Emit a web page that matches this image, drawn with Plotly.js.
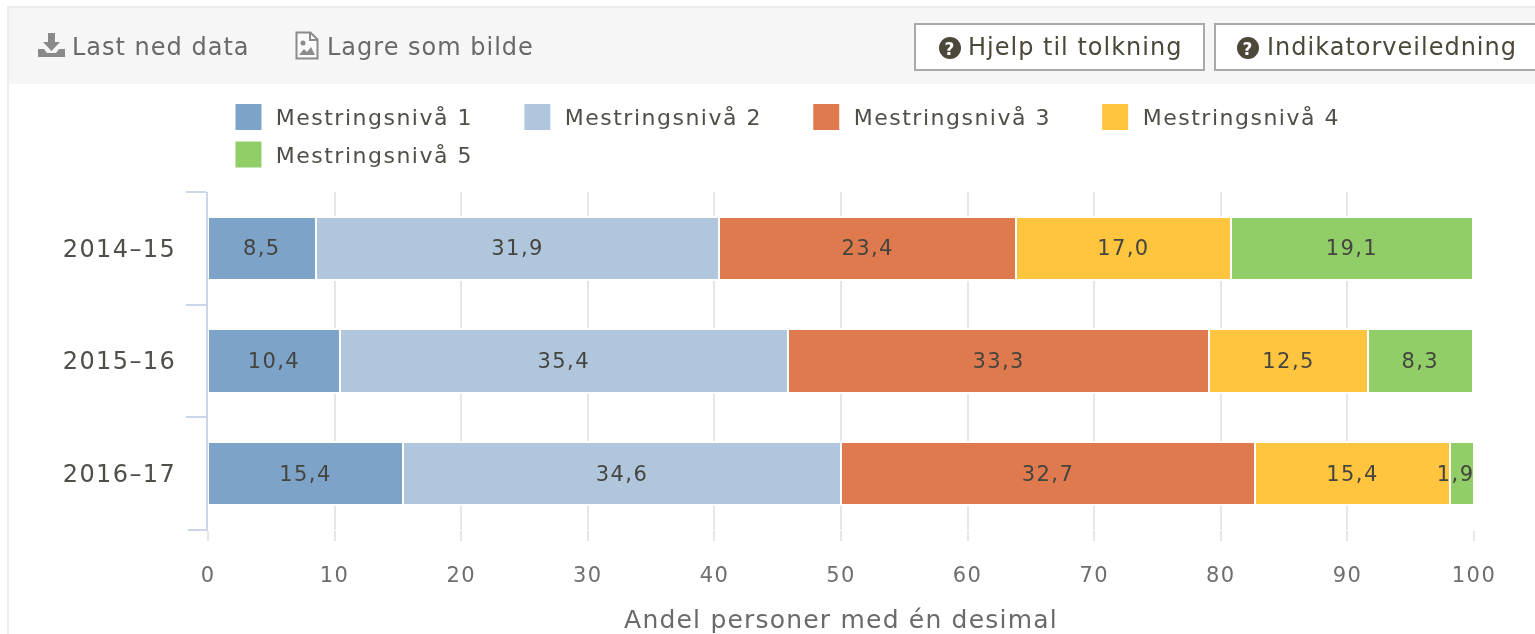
<!DOCTYPE html>
<html lang="no">
<head>
<meta charset="utf-8">
<title>Mestringsnivå</title>
<script src="https://cdn.plot.ly/plotly-3.0.1.min.js"></script>
<style>
  html, body { margin: 0; padding: 0; background: #fff; overflow: hidden; width: 1535px; height: 634px; }
  body { font-family: "DejaVu Sans", sans-serif; position: relative; filter: blur(0.5px); }
  #chart { position: absolute; left: 0; top: 0; width: 1535px; height: 634px; }
  #chart .ytick text { letter-spacing: 1.4px; }
  #chart .xtick text { letter-spacing: 1.4px; }
  #chart .xtitle { letter-spacing: 1.2px; }
  #chart .annotation-text { letter-spacing: 1.5px; }
  #chart .bartext, #chart .bartext text { letter-spacing: 1.4px; }
  #frame-top { position: absolute; left: 8px; top: 6px; width: 1527px; height: 2px; background: #ececec; }
  #frame-left { position: absolute; left: 7px; top: 6px; width: 2px; height: 628px; background: #ececec; }
  #toolbar { position: absolute; left: 9px; top: 8px; width: 1526px; height: 76px; background: #f6f6f6; }
  .item { position: absolute; top: 24px; height: 30px; line-height: 30px; font-size: 24px; letter-spacing: 1px; color: #696969; white-space: nowrap; }
  .item svg { position: absolute; }
  .btn { position: absolute; top: 15px; height: 44px; background: #fff; border: 2px solid #a9a9a9; color: #4b4739; font-size: 24px; letter-spacing: 1px; line-height: 44px; white-space: nowrap; box-sizing: content-box; }
  .btn span { position: absolute; top: 0; }
  .btn svg { position: absolute; top: 11px; }
</style>
</head>
<body>
<div id="chart"></div>
<div id="frame-top"></div>
<div id="frame-left"></div>
<div id="toolbar">
  <div class="item" style="left:29px;width:215px">
    <svg style="left:0;top:0" width="27" height="26" viewBox="0 0 27 26"><path d="M10 1h7v9h5l-8.500 9-8.500-9h5z" fill="#8a8a8a"/><path d="M0 17h6l3 4h9l3-4h6v8H0z" fill="#8a8a8a"/></svg>
    <span style="position:absolute;left:34px">Last ned data</span>
  </div>
  <div class="item" style="left:286px;width:260px">
    <svg style="left:0;top:-1px" width="24" height="29" viewBox="0 0 24 29"><path d="M1.500 1.500h14l7 7v19h-21z" fill="#fbfbfb" stroke="#8b8b8b" stroke-width="2"/><path d="M15 2v7h7" fill="none" stroke="#8b8b8b" stroke-width="2"/><circle cx="8" cy="12" r="2.500" fill="#8b8b8b"/><path d="M4 24l5-6 3 3 4-5 4 8z" fill="#8b8b8b"/></svg>
    <span style="position:absolute;left:32px">Lagre som bilde</span>
  </div>
  <div class="btn" style="left:905px;width:287px">
    <svg style="left:22px" width="24" height="24" viewBox="0 0 24 24"><circle cx="12" cy="12" r="11" fill="#4b4739"/><text x="12" y="18.500" text-anchor="middle" font-family="DejaVu Sans" font-weight="bold" font-size="17" fill="#fff">?</text></svg>
    <span style="left:52px">Hjelp til tolkning</span>
  </div>
  <div class="btn" style="left:1205px;width:330px;border-right:none">
    <svg style="left:20px" width="24" height="24" viewBox="0 0 24 24"><circle cx="12" cy="12" r="11" fill="#4b4739"/><text x="12" y="18.500" text-anchor="middle" font-family="DejaVu Sans" font-weight="bold" font-size="17" fill="#fff">?</text></svg>
    <span style="left:51px">Indikatorveiledning</span>
  </div>
</div>
<script>
const periods = ["2014–15", "2015–16", "2016–17"];
const seriesNames = ["Mestringsnivå 1", "Mestringsnivå 2", "Mestringsnivå 3", "Mestringsnivå 4", "Mestringsnivå 5"];
const level1 = [8.5, 10.4, 15.4];
const level2 = [31.9, 35.4, 34.6];
const level3 = [23.4, 33.3, 32.7];
const level4 = [17.0, 12.5, 15.4];
const level5 = [19.1, 8.3, 1.9];
const seriesValues = [level1, level2, level3, level4, level5];
const seriesColors = ["#7ea3c8", "#b0c6dc", "#de7a4d", "#ffc53e", "#92ce68"];
const xTicks = [0, 10, 20, 30, 40, 50, 60, 70, 80, 90, 100];

const FONT = "DejaVu Sans, sans-serif";
const W = 1535, H = 634;
const PLOT_L = 207.5, PLOT_W = 1266.5, PLOT_T = 192, PLOT_H = 338;
const fmt = v => v.toFixed(1).replace(".", ",");

// A label too wide for its bar is not drawn inside it but nudged back into the plot, as in the reference.
const narrow = 3;
const traces = seriesValues.map((vals, i) => ({
  type: "bar",
  orientation: "h",
  name: seriesNames[i],
  y: periods,
  x: vals,
  text: vals.map(v => v < narrow ? "" : fmt(v)),
  textposition: "inside",
  insidetextanchor: "middle",
  constraintext: "none",
  textangle: 0,
  textfont: { family: FONT, size: 21, color: "#45453f" },
  marker: { color: seriesColors[i], line: { color: "#ffffff", width: 2 } },
  hoverinfo: "name+x",
  showlegend: false
}));

const annotations = [];
const shapes = [];

// Legend: 26 px swatches are larger than Plotly's own bar legend keys can be.
seriesNames.forEach((name, i) => {
  const col = i % 4, row = Math.floor(i / 4);
  const left = 235 + col * 289, top = 104 + row * 37.5;
  annotations.push({
    xref: "paper", yref: "paper",
    x: (left + 50 - PLOT_L) / PLOT_W, y: (PLOT_T + PLOT_H - (top + 13.5)) / PLOT_H,
    xanchor: "left", yanchor: "middle", showarrow: false,
    text: name, font: { family: FONT, size: 22, color: "#4f4f48" }
  });
  shapes.push({
    type: "rect", xref: "paper", yref: "paper", layer: "above",
    x0: (left - PLOT_L) / PLOT_W, x1: (left + 26 - PLOT_L) / PLOT_W,
    y0: (PLOT_T + PLOT_H - (top + 26)) / PLOT_H, y1: (PLOT_T + PLOT_H - top) / PLOT_H,
    fillcolor: seriesColors[i], line: { width: 0 }
  });
});

// Closing category tick, which Plotly omits at the last boundary.
shapes.push({
  type: "line", xref: "paper", yref: "paper", layer: "above",
  x0: -20 / PLOT_W, x1: 0, y0: 0, y1: 0,
  line: { color: "#ccd6eb", width: 2 }
});

// Narrow-bar labels, positioned from the stacked data.
periods.forEach((p, j) => {
  let base = 0;
  seriesValues.forEach(vals => {
    const v = vals[j];
    if (v < narrow) {
      annotations.push({
        xref: "x", yref: "y", x: base + v / 2, y: p, xshift: -6,
        showarrow: false, text: fmt(v),
        font: { family: FONT, size: 21, color: "#45453f" }
      });
    }
    base += v;
  });
});

const layout = {
  width: W, height: H,
  margin: { l: PLOT_L, r: W - PLOT_L - PLOT_W, t: PLOT_T, b: H - PLOT_T - PLOT_H, pad: 0 },
  paper_bgcolor: "#ffffff",
  plot_bgcolor: "#ffffff",
  barmode: "stack",
  bargap: 0.44,
  showlegend: false,
  font: { family: FONT },
  xaxis: {
    range: [0, 100],
    tickmode: "array",
    tickvals: xTicks,
    ticktext: xTicks.map(String),
    showgrid: true, gridcolor: "#e6e6e6", gridwidth: 2,
    zeroline: false, showline: false,
    ticks: "outside", ticklen: 10, tickwidth: 2, tickcolor: "#e6e6e6",
    ticklabelstandoff: 16,
    tickfont: { family: FONT, size: 21, color: "#6e6e6e" },
    title: { text: "Andel personer med én desimal", standoff: 28,
             font: { family: FONT, size: 25, color: "#6a6a6a" } }
  },
  yaxis: {
    type: "category",
    categoryorder: "array",
    categoryarray: periods,
    autorange: false,
    range: [2.5, -0.5],
    tickson: "boundaries",
    ticks: "outside", ticklen: 20, tickwidth: 2, tickcolor: "#ccd6eb",
    ticklabelstandoff: 25,
    showline: true, linecolor: "#ccd6eb", linewidth: 2,
    showgrid: false, zeroline: false,
    tickfont: { family: FONT, size: 24, color: "#4f4f48" }
  },
  shapes: shapes,
  annotations: annotations
};

Plotly.newPlot("chart", traces, layout, { displayModeBar: false, responsive: false });
</script>
</body>
</html>
